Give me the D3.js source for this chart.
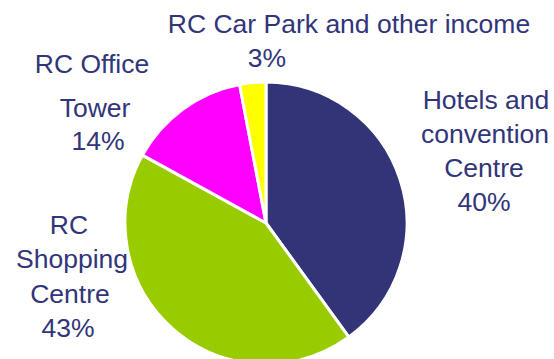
<!DOCTYPE html>
<html>
<head>
<meta charset="utf-8">
<script src="https://cdn.jsdelivr.net/npm/d3@7"></script>
<style>
  body { margin: 0; background: #fff; }
  text { font-family: Arial, "Liberation Sans", sans-serif; }
</style>
</head>
<body>
<div id="chart"></div>
<script>
// Data
const categories = ["Hotels and convention Centre", "RC Shopping Centre", "RC Office Tower", "RC Car Park and other income"];
const shares = [40, 43, 14, 3];
const colors = ["#333377", "#99cc00", "#ff00ff", "#ffff00"];
// how each label is broken into lines, as in the picture
const labelLines = [
    ["Hotels and", "convention", "Centre", "40%"],
    ["RC", "Shopping", "Centre", "43%"],
    ["RC Office", "Tower", "14%"],
    ["RC Car Park and other income", "3%"]
];

// Layout
const width = 554;
const height = 359;
const cx = 266, cy = 223, radius = 141;
const textColor = "#313579";

// label line positions (x centre, baseline)
const labelPos = [
    [[486, 109], [485, 143], [484, 177], [484, 211]],
    [[69, 234], [72, 268], [70, 303], [68, 337]],
    [[92, 73], [95, 117], [98, 150]],
    [[349, 33], [267, 67]]
];

const svg = d3.select("#chart")
    .append("svg")
    .attr("width", width)
    .attr("height", height);

const pie = d3.pie().sort(null).value(d => d);
const arc = d3.arc().innerRadius(0).outerRadius(radius);

svg.append("g")
    .attr("transform", `translate(${cx},${cy})`)
    .selectAll("path")
    .data(pie(shares))
    .join("path")
    .attr("d", arc)
    .attr("fill", (d, i) => colors[i])
    .attr("stroke", "#fff")
    .attr("stroke-width", 3)
    .attr("stroke-linejoin", "round");

// Labels
const labels = svg.append("g").attr("class", "labels");
categories.forEach((c, i) => {
    labels.append("g")
        .selectAll("text")
        .data(labelLines[i])
        .join("text")
        .attr("x", (d, j) => labelPos[i][j][0])
        .attr("y", (d, j) => labelPos[i][j][1])
        .attr("text-anchor", "middle")
        .attr("font-size", 26.5)
        .attr("fill", textColor)
        .text(d => d);
});
</script>
</body>
</html>
